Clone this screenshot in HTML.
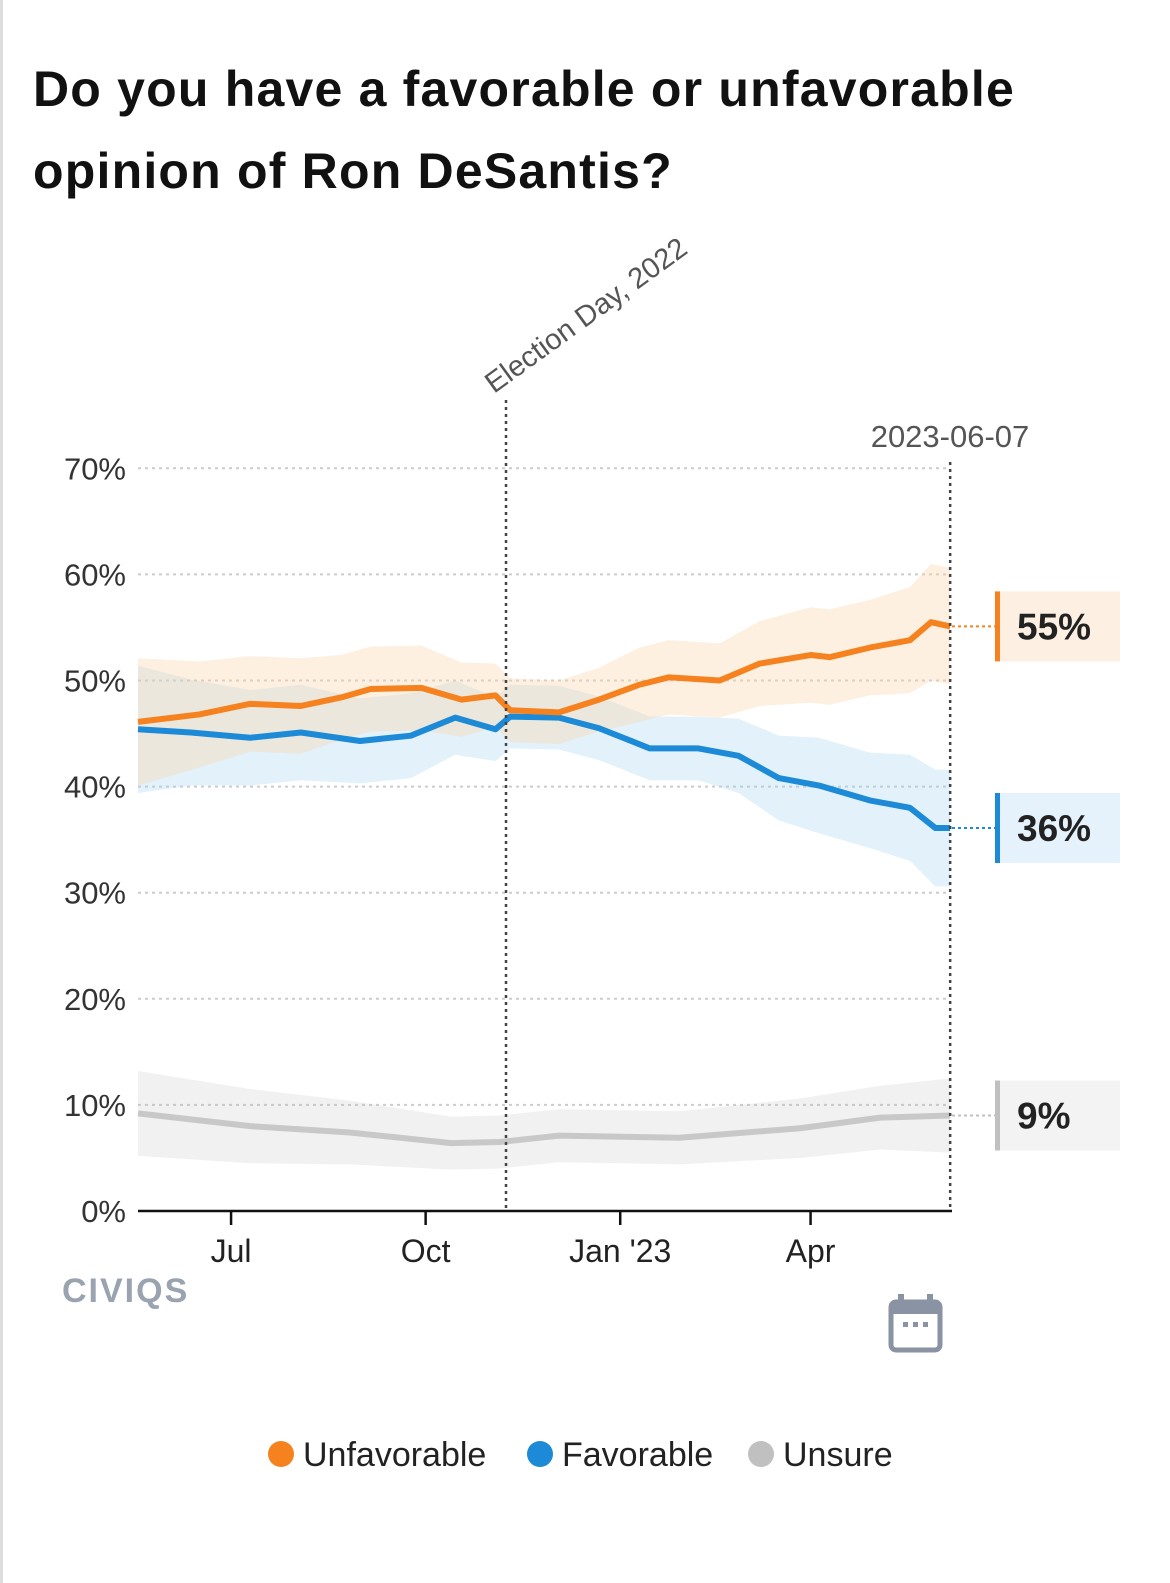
<!DOCTYPE html>
<html><head><meta charset="utf-8"><style>
body{margin:0;background:#fff;width:1170px;height:1583px;overflow:hidden;position:relative;font-family:"Liberation Sans",sans-serif}
#edge{position:absolute;left:0;top:0;width:3px;height:1583px;background:#ddd}
h1{position:absolute;left:33px;top:48px;margin:0;font-size:50px;line-height:82px;font-weight:bold;color:#111;letter-spacing:1.2px}
svg{position:absolute;left:0;top:0}
</style></head><body>
<div id="edge"></div>
<h1>Do you have a favorable or unfavorable<br>opinion of Ron DeSantis?</h1>
<svg id="chart" width="1170" height="1583"></svg>
<script>
// Days since 2022-05-18
const unfavDays=[0,29,53,77,96,110,134,153,169,176,199,218,237,251,275,294,318,327,346,365,375,384];
const unfavVals=[46.1,46.8,47.8,47.6,48.4,49.2,49.3,48.2,48.6,47.2,47.0,48.2,49.6,50.3,50.0,51.6,52.4,52.2,53.1,53.8,55.5,55.1];
const unfavBand=[6,5,4.5,4.5,4,4,4,3.5,3,3,3,3,3.5,3.5,3.5,4,4.5,4.5,4.5,5,5.5,5.5];
const favDays=[0,25,53,77,105,129,150,169,176,199,218,242,265,284,303,322,346,365,377,384];
const favVals=[45.4,45.1,44.6,45.1,44.3,44.8,46.5,45.4,46.6,46.5,45.5,43.6,43.6,42.9,40.8,40.1,38.7,38.0,36.1,36.1];
const favBand=[6,5,4.5,4.5,4,4,3.5,3,3,3,3,3,3,3.5,4,4.5,4.5,5,5.5,5.5];
const unsDays=[0,53,100,148,171,199,256,313,351,384];
const unsVals=[9.2,8.0,7.4,6.4,6.5,7.1,6.9,7.8,8.8,9.0];
const unsBand=[4,3.5,3,2.5,2.5,2.5,2.5,2.8,3,3.5];
const yTicks=[0,10,20,30,40,50,60,70];
const xTickLabels=["Jul","Oct","Jan '23","Apr"];
const xTickDays=[44,136,228,318];
const electionDay=174;
const lastDay=384;
const finalLabels=["55%","36%","9%"];

const X0=138,PXD=2.115,Y0=1211,PXV=10.61;
const xs=d=>X0+d*PXD, ys=v=>Y0-v*PXV;
const svg=document.getElementById('chart');
const NS="http://www.w3.org/2000/svg";
function mk(t,a,p){const e=document.createElementNS(NS,t);for(const k in a)e.setAttribute(k,a[k]);(p||svg).appendChild(e);return e;}

yTicks.forEach(v=>{
  if(v>0){const g=mk('line',{x1:138,x2:950,y1:ys(v),y2:ys(v),stroke:'#ccc','stroke-width':2,'stroke-dasharray':'3,4'});
  
  }
  const t=mk('text',{x:126,y:ys(v)+11,'text-anchor':'end','font-size':31,fill:'#333'});
  t.textContent=v+'%';
  
  
});

function band(days,vals,bw,color,op,name){
  let d='';days.forEach((x,i)=>d+=(i?'L':'M')+xs(x)+','+ys(vals[i]+bw[i]));
  for(let i=days.length-1;i>=0;i--)d+='L'+xs(days[i])+','+ys(vals[i]-bw[i]);
  const p=mk('path',{d:d+'Z',fill:color,'fill-opacity':op});
  
  
}
function line(days,vals,color,w,name){
  const p=mk('polyline',{points:days.map((x,i)=>xs(x)+','+ys(vals[i])).join(' '),fill:'none',stroke:color,'stroke-width':w,'stroke-linejoin':'round'});
  
  
}
band(unsDays,unsVals,unsBand,'#bbb',0.2,'unsure-band');
band(favDays,favVals,favBand,'#9fd0f0',0.3,'favorable-band');
band(unfavDays,unfavVals,unfavBand,'#fbd3a6',0.35,'unfavorable-band');
line(unsDays,unsVals,'#c8c8c8',6,'unsure-line');
line(favDays,favVals,'#1c8ad6',6,'favorable-line');
line(unfavDays,unfavVals,'#f5821f',6,'unfavorable-line');

let a=mk('line',{x1:138,x2:952,y1:1211,y2:1211,stroke:'#111','stroke-width':2.5});


xTickDays.forEach((d,i)=>{
  mk('line',{x1:xs(d),x2:xs(d),y1:1211,y2:1225,stroke:'#111','stroke-width':2.5});
  const t=mk('text',{x:xs(d),y:1262,'text-anchor':'middle','font-size':32,fill:'#222'});
  t.textContent=xTickLabels[i];
  
  
});
let e=mk('line',{x1:xs(electionDay),x2:xs(electionDay),y1:400,y2:1211,stroke:'#444','stroke-width':2.5,'stroke-dasharray':'3,4'});


let et=mk('text',{x:0,y:0,'font-size':29,fill:'#555',transform:`translate(${xs(electionDay)-12},394) rotate(-36)`});
et.textContent='Election Day, 2022';


let l=mk('line',{x1:xs(lastDay),x2:xs(lastDay),y1:462,y2:1211,stroke:'#444','stroke-width':2.5,'stroke-dasharray':'3,4'});


let lt=mk('text',{x:950,y:447,'text-anchor':'middle','font-size':31,fill:'#555'});
lt.textContent='2023-06-07';



const endVals=[unfavVals[unfavVals.length-1],favVals[favVals.length-1],unsVals[unsVals.length-1]];
const endCols=['#f5821f','#1c8ad6','#c0c0c0'],endBg=['#fdf0e2','#e6f2fb','#f3f3f3'];
const endNames=['unfavorable','favorable','unsure'];
endVals.forEach((v,i)=>{
  const y=ys(v);
  mk('line',{x1:952,x2:995,y1:y,y2:y,stroke:endCols[i],'stroke-width':2,'stroke-dasharray':'3,3'});
  const r=mk('rect',{x:995,y:y-35,width:125,height:70,fill:endBg[i]});
  
  
  mk('rect',{x:995,y:y-35,width:5,height:70,fill:endCols[i]});
  const t=mk('text',{x:1017,y:y+13,'font-size':37,'font-weight':'bold',fill:'#222'});
  t.textContent=finalLabels[i];
  
  
});

let lg=mk('text',{x:62,y:1302,'font-size':34,'font-weight':'bold',fill:'#9aa3b0','letter-spacing':'2'});
lg.textContent='CIVIQS';


const cg=mk('g',{});


mk('rect',{x:891,y:1302,width:49,height:48,rx:5,fill:'none',stroke:'#8a93a3','stroke-width':5},cg);
mk('rect',{x:891,y:1302,width:49,height:12,fill:'#8a93a3'},cg);
mk('rect',{x:898,y:1294,width:6,height:12,fill:'#8a93a3'},cg);
mk('rect',{x:927,y:1294,width:6,height:12,fill:'#8a93a3'},cg);
[903,913,923].forEach(x=>mk('rect',{x:x,y:1322,width:5,height:5,fill:'#8a93a3'},cg));

const legNames=['Unfavorable','Favorable','Unsure'],legX=[268,527,748];
legNames.forEach((n,i)=>{
  const g=mk('g',{});
  
  
  mk('circle',{cx:legX[i]+13,cy:1454,r:13,fill:endCols[i]},g);
  const t=mk('text',{x:legX[i]+35,y:1466,'font-size':34,fill:'#222'},g);
  t.textContent=n;
});
</script>
</body></html>
